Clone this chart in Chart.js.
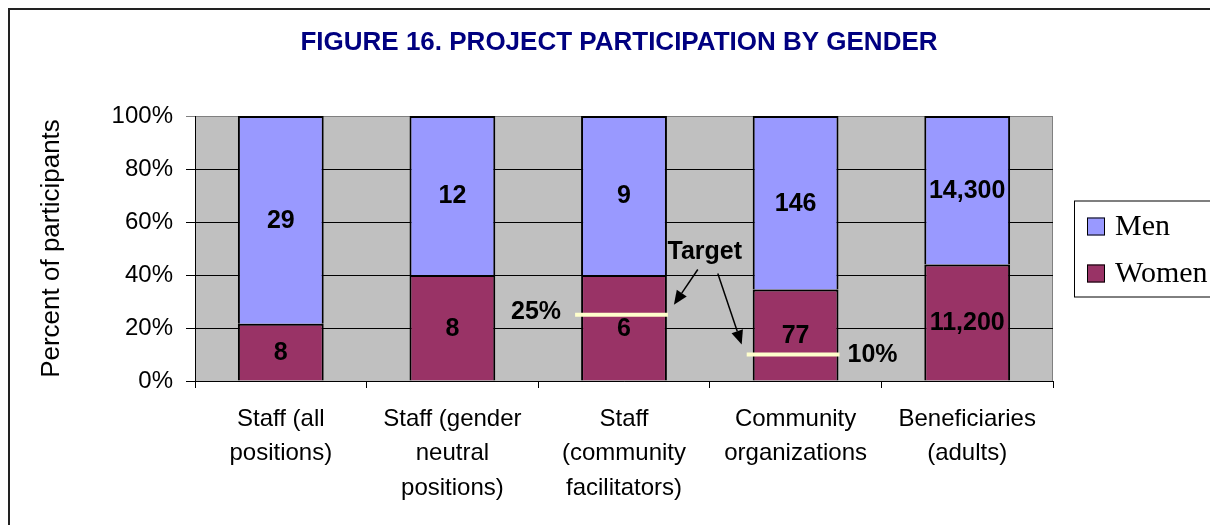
<!DOCTYPE html>
<html>
<head>
<meta charset="utf-8">
<script src="https://cdn.jsdelivr.net/npm/chart.js@4.4.1/dist/chart.umd.min.js"></script>
<style>
    html, body { margin: 0; padding: 0; background: #fff; overflow: hidden; }
    canvas { display: block; }
</style>
</head>
<body>
<canvas id="this-graph" width="1210" height="525"></canvas>
<script>
// values
var categories = [
    ["Staff (all", "positions)"],
    ["Staff (gender", "neutral", "positions)"],
    ["Staff", "(community", "facilitators)"],
    ["Community", "organizations"],
    ["Beneficiaries", "(adults)"]
];
var women_counts = [8, 8, 6, 77, 11200];
var men_counts = [29, 12, 9, 146, 14300];
var y_ticks = [0, 20, 40, 60, 80, 100];

// target markers (category index, percent)
var target_index = [2, 3];
var target_values = [25, 10];
var target_labels = ["25%", "10%"];

var chart_title = "FIGURE 16. PROJECT PARTICIPATION BY GENDER";
var men_color = "#9999FF";
var women_color = "#993366";
var sans = "'Liberation Sans', Arial, sans-serif";

// stacked 100% -> share of each row
var women_pct = women_counts.map(function (w, i) { return w / (w + men_counts[i]) * 100 });
var men_pct = men_counts.map(function (m, i) { return m / (m + women_counts[i]) * 100 });

function fmt(n) {
    return n.toLocaleString("en-US");
}

function arrow(ctx, x1, y1, x2, y2) {
    var ang = Math.atan2(y2 - y1, x2 - x1);
    var len = 14, half = 6;
    var bx = x2 - len * Math.cos(ang), by = y2 - len * Math.sin(ang);
    ctx.beginPath();
    ctx.moveTo(x1, y1);
    ctx.lineTo(bx, by);
    ctx.stroke();
    ctx.beginPath();
    ctx.moveTo(x2, y2);
    ctx.lineTo(bx + half * Math.sin(ang), by - half * Math.cos(ang));
    ctx.lineTo(bx - half * Math.sin(ang), by + half * Math.cos(ang));
    ctx.closePath();
    ctx.fill();
}

const figurePlugin = {
    id: "figure",
    beforeDraw(chart) {
        var ctx = chart.ctx, a = chart.chartArea;
        ctx.save();
        // outer frame (runs off the page right / bottom)
        ctx.strokeStyle = "#222";
        ctx.lineWidth = 2;
        ctx.strokeRect(9, 9, chart.width + 20, chart.height + 20);
        // plot area
        ctx.fillStyle = "#C0C0C0";
        ctx.fillRect(a.left, a.top, a.right - a.left, a.bottom - a.top);
        ctx.strokeStyle = "#808080";
        ctx.lineWidth = 1;
        ctx.beginPath();
        ctx.moveTo(a.left, a.top + 0.5);
        ctx.lineTo(a.right - 0.5, a.top + 0.5);
        ctx.lineTo(a.right - 0.5, a.bottom);
        ctx.stroke();
        ctx.restore();
    },
    afterDatasetsDraw(chart) {
        var ctx = chart.ctx;
        var xs = chart.scales.x, ys = chart.scales.y;
        ctx.save();
        // value labels in each segment
        ctx.font = "bold 25px " + sans;
        ctx.fillStyle = "#000";
        ctx.textAlign = "center";
        ctx.textBaseline = "middle";
        var counts = [women_counts, men_counts];
        chart.data.datasets.forEach(function (ds, di) {
            chart.getDatasetMeta(di).data.forEach(function (bar, i) {
                ctx.fillText(fmt(counts[di][i]), bar.x, (bar.y + bar.base) / 2 + 1);
            });
        });

        // target lines
        var lines = [];
        var bars = chart.getDatasetMeta(0).data;
        target_index.forEach(function (ci, k) {
            var b = bars[ci];
            var x1 = b.x - b.width / 2 - 6, x2 = b.x + b.width / 2 + 1;
            var y = ys.getPixelForValue(target_values[k]);
            ctx.strokeStyle = "#FFFFCC";
            ctx.lineWidth = 4;
            ctx.beginPath();
            ctx.moveTo(x1, y);
            ctx.lineTo(x2, y);
            ctx.stroke();
            lines.push({ x1: x1, x2: x2, y: y });
        });
        ctx.fillStyle = "#000";
        ctx.font = "bold 25px " + sans;
        ctx.textAlign = "right";
        ctx.fillText(target_labels[0], lines[0].x1 - 14, lines[0].y - 3);
        ctx.textAlign = "left";
        ctx.fillText(target_labels[1], lines[1].x2 + 8, lines[1].y + 1);

        // "Target" note with arrows
        var tx = (xs.getPixelForValue(target_index[0]) + xs.getPixelForValue(target_index[1])) / 2 - 5;
        var ty = ys.getPixelForValue(48.5);
        ctx.textAlign = "center";
        ctx.fillText("Target", tx, ty);
        ctx.strokeStyle = "#000";
        ctx.lineWidth = 1.5;
        arrow(ctx, tx - 7, ty + 17, lines[0].x2 + 6, lines[0].y - 10);
        arrow(ctx, tx + 13, ty + 21, lines[1].x1 - 5, lines[1].y - 10);
        ctx.restore();
    },
    afterDraw(chart) {
        var ctx = chart.ctx, a = chart.chartArea;
        ctx.save();
        // title
        ctx.fillStyle = "#000080";
        ctx.font = "bold 26px " + sans;
        ctx.textAlign = "center";
        ctx.textBaseline = "middle";
        ctx.fillText(chart_title, 619, 43);

        // legend box
        var cy = (a.top + a.bottom) / 2;
        var lx = a.right + 21;
        ctx.fillStyle = "#fff";
        ctx.fillRect(lx, cy - 48, 160, 96);
        ctx.strokeStyle = "#000";
        ctx.lineWidth = 1;
        ctx.strokeRect(lx + 0.5, cy - 48 + 0.5, 160, 96);
        var items = [chart.data.datasets[1], chart.data.datasets[0]];
        ctx.font = "30px 'Liberation Serif', 'Times New Roman', serif";
        ctx.textAlign = "left";
        items.forEach(function (ds, k) {
            var iy = cy - 22 + k * 47;
            ctx.fillStyle = ds.backgroundColor;
            ctx.fillRect(lx + 13, iy - 9, 18, 18);
            ctx.strokeStyle = "#000";
            ctx.strokeRect(lx + 13.5, iy - 8.5, 17, 17);
            ctx.fillStyle = "#000";
            ctx.fillText(ds.label, lx + 41, iy + 1);
        });
        ctx.restore();
    }
};

var ctx = document.getElementById("this-graph");
var myChart = new Chart(ctx, {
    type: "bar",
    data: {
        labels: categories,
        datasets: [
            {
                label: "Women",
                data: women_pct,
                backgroundColor: women_color,
                borderColor: "#000",
                borderWidth: 2
            },
            {
                label: "Men",
                data: men_pct,
                backgroundColor: men_color,
                borderColor: "#000",
                borderWidth: 2
            }
        ]
    },
    options: {
        responsive: false,
        animation: false,
        layout: { padding: { top: 116, right: 157, left: 0, bottom: 0 } },
        datasets: { bar: { barPercentage: 0.5, categoryPercentage: 1 } },
        plugins: {
            legend: { display: false },
            title: { display: false },
            tooltip: { enabled: false }
        },
        scales: {
            x: {
                stacked: true,
                afterFit(scale) { scale.height = 144 },
                grid: {
                    offset: true,
                    drawOnChartArea: false,
                    color: "#000",
                    tickLength: 7
                },
                border: { color: "#000", width: 1 },
                ticks: {
                    color: "#000",
                    padding: 14,
                    maxRotation: 0,
                    autoSkip: false,
                    font: { family: sans, size: 24, lineHeight: 1.44 }
                }
            },
            y: {
                stacked: true,
                min: 0,
                max: 100,
                afterFit(scale) { scale.width = 195 },
                afterBuildTicks(scale) {
                    scale.ticks = y_ticks.map(function (v) { return { value: v } });
                },
                grid: {
                    color: function (c) { return c.tick && c.tick.value === 100 ? "#808080" : "#000" },
                    tickLength: 9
                },
                border: { color: "#000", width: 1 },
                ticks: {
                    color: "#000",
                    padding: 13,
                    font: { family: sans, size: 24 },
                    callback: function (v) { return v + "%" }
                },
                title: {
                    display: true,
                    text: "Percent of participants",
                    color: "#000",
                    font: { family: sans, size: 26 },
                    padding: { top: 36, bottom: 0 }
                }
            }
        }
    },
    plugins: [figurePlugin]
});
</script>
</body>
</html>
